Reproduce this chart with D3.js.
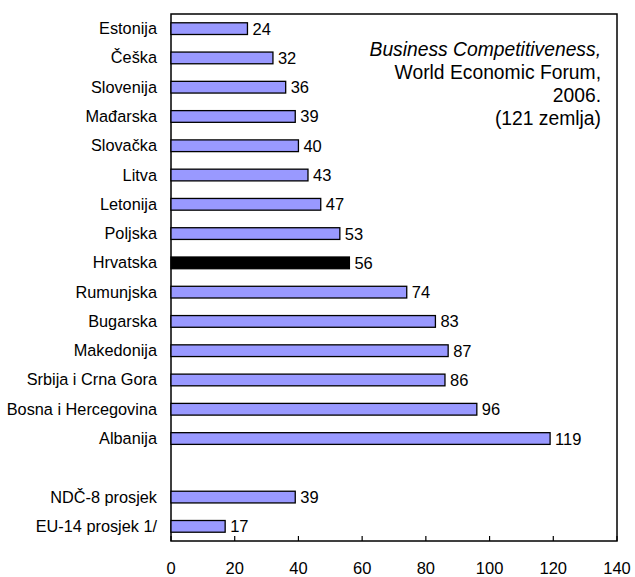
<!DOCTYPE html>
<html><head><meta charset="utf-8">
<script src="https://cdn.jsdelivr.net/npm/d3@7"></script>
<style>body{margin:0;background:#fff}text{font-family:"Liberation Sans",Arial,sans-serif}</style>
</head><body><svg id="c" width="635" height="577"></svg>
<script>
const categories = ["Estonija","Češka","Slovenija","Mađarska","Slovačka","Litva","Letonija","Poljska","Hrvatska","Rumunjska","Bugarska","Makedonija","Srbija i Crna Gora","Bosna i Hercegovina","Albanija","","NDČ-8 prosjek","EU-14 prosjek 1/"];
const values = [24,32,36,39,40,43,47,53,56,74,83,87,86,96,119,null,39,17];
const highlight = "Hrvatska";
const ticks = [0,20,40,60,80,100,120,140];
const note = ["Business Competitiveness,","World Economic Forum,","2006.","(121 zemlja)"];

const svg = d3.select("#c");
const L=171, R=617, T=14, B=541;
const x = d3.scaleLinear().domain([0,140]).range([L,R]);
const y = d3.scaleBand().domain(categories.map((d,i)=>i)).range([T,B]).paddingInner(0.6).paddingOuter(0.3);

svg.append("rect").attr("x",L).attr("y",T).attr("width",R-L).attr("height",B-T)
  .attr("fill","none").attr("stroke","#000").attr("stroke-width",1.5);

svg.append("g").selectAll("line").data(ticks).join("line")
  .attr("x1",d=>x(d)).attr("x2",d=>x(d)).attr("y1",B).attr("y2",B-5)
  .attr("stroke","#000").attr("stroke-width",1.2);
svg.append("g").selectAll("text").data(ticks).join("text")
  .attr("x",d=>x(d)).attr("y",574).attr("text-anchor","middle")
  .attr("font-size",16.5).text(d=>d);

const rows = categories.map((c,i)=>({c,i,v:values[i]}));
const bars = rows.filter(d=>d.v!=null);
svg.append("g").selectAll("rect").data(bars).join("rect")
  .attr("x",x(0)).attr("y",d=>y(d.i)).attr("width",d=>x(d.v)-x(0)).attr("height",y.bandwidth())
  .attr("fill",d=>d.c===highlight?"#000":"#9999FF").attr("stroke","#000").attr("stroke-width",1.3);
svg.append("g").selectAll("text").data(bars).join("text")
  .attr("x",d=>x(d.v)+5).attr("y",d=>y(d.i)+y.bandwidth()/2+6)
  .attr("font-size",16.5).text(d=>d.v);
svg.append("g").selectAll("text").data(rows.filter(d=>d.c)).join("text")
  .attr("x",157).attr("y",d=>y(d.i)+y.bandwidth()/2+5.5)
  .attr("text-anchor","end").attr("font-size",16.3).text(d=>d.c);

svg.append("g").selectAll("text").data(note).join("text")
  .attr("x",601).attr("y",(d,i)=>56+i*23).attr("text-anchor","end")
  .attr("font-size",19.3).attr("font-style",(d,i)=>i===0?"italic":"normal").text(d=>d);
</script></body></html>
